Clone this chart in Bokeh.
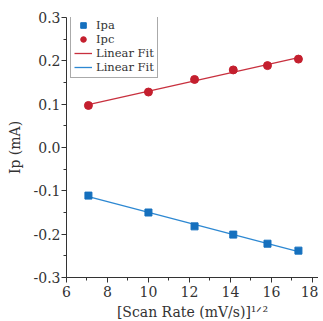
import numpy as np
from bokeh.plotting import figure
from bokeh.models import Range1d, Legend, LegendItem, FixedTicker
from bokeh.embed import file_html
from bokeh.resources import INLINE

# data
scan_rate_sqrt = [7.07, 10.0, 12.25, 14.14, 15.81, 17.32]
ipa = [-0.111, -0.150, -0.182, -0.201, -0.222, -0.238]
ipc = [0.097, 0.128, 0.157, 0.179, 0.189, 0.204]
x_ticks = [6, 8, 10, 12, 14, 16, 18]
y_ticks = [-0.3, -0.2, -0.1, 0.0, 0.1, 0.2, 0.3]

RED = "#c41f2e"
BLUE = "#1570be"
RED_LINE = "#c8303e"
BLUE_LINE = "#2d88d2"
FONT = "DejaVu Serif"

p = figure(frame_width=252, frame_height=260, output_backend="svg",
           toolbar_location=None, x_range=Range1d(6, 18.3), y_range=Range1d(-0.3, 0.3),
           min_border_left=66, min_border_top=17, min_border_right=0, min_border_bottom=0)
p.outline_line_color = None
p.grid.visible = False
p.background_fill_color = "white"

xa = np.array(scan_rate_sqrt)
ka, ba = np.polyfit(xa, ipa, 1)
kc, bc = np.polyfit(xa, ipc, 1)
fit_x = [scan_rate_sqrt[0], scan_rate_sqrt[-1]]

lc = p.line(fit_x, [kc * v + bc for v in fit_x], line_color=RED_LINE, line_width=1.3)
la = p.line(fit_x, [ka * v + ba for v in fit_x], line_color=BLUE_LINE, line_width=1.3)
sa = p.scatter(scan_rate_sqrt, ipa, marker="square", size=7, color=BLUE)
sc = p.scatter(scan_rate_sqrt, ipc, marker="circle", size=8, color=RED)

for ax in (p.xaxis[0], p.yaxis[0]):
    ax.axis_line_color = "#333333"
    ax.major_tick_line_color = "#333333"
    ax.minor_tick_line_color = "#333333"
    ax.major_tick_in = 0
    ax.major_tick_out = 5
    ax.minor_tick_in = 0
    ax.minor_tick_out = 3
    ax.major_label_text_font = FONT
    ax.major_label_text_font_size = "14px"
    ax.major_label_text_color = "#333333"
    ax.axis_label_text_font = FONT
    ax.axis_label_text_font_size = "14px"
    ax.axis_label_text_font_style = "normal"
    ax.axis_label_text_color = "#333333"

p.xaxis.ticker = FixedTicker(ticks=x_ticks, minor_ticks=[7, 9, 11, 13, 15, 17])
p.yaxis.ticker = FixedTicker(ticks=y_ticks, minor_ticks=[-0.25, -0.15, -0.05, 0.05, 0.15, 0.25])
p.xaxis.major_label_standoff = 3
p.yaxis.major_label_standoff = 1
p.yaxis.major_label_overrides = {-0.3: "-0.3", -0.2: "-0.2", -0.1: "-0.1", 0.0: "0.0",
                                 0.1: "0.1", 0.2: "0.2", 0.3: "0.3"}
p.xaxis.axis_label = "[Scan Rate (mV/s)]\u00b9\u141f\u00b2"
p.xaxis.axis_label_standoff = 4
p.yaxis.axis_label = "Ip (mA)"
p.yaxis.axis_label_standoff = 8

legend = Legend(items=[
    LegendItem(label="Ipa", renderers=[sa]),
    LegendItem(label="Ipc", renderers=[sc]),
    LegendItem(label="Linear Fit", renderers=[lc]),
    LegendItem(label="Linear Fit", renderers=[la]),
], location=(4, 199))
legend.label_text_font = FONT
legend.label_text_font_size = "11.5px"
legend.label_text_color = "#333333"
legend.border_line_color = "#555555"
legend.border_line_width = 1
legend.padding = 3
legend.spacing = 0
legend.margin = 0
legend.label_height = 14
legend.glyph_height = 14
legend.glyph_width = 18
legend.label_standoff = 4
legend.background_fill_alpha = 1
p.add_layout(legend)

open("out.html", "w").write(file_html(p, INLINE))
